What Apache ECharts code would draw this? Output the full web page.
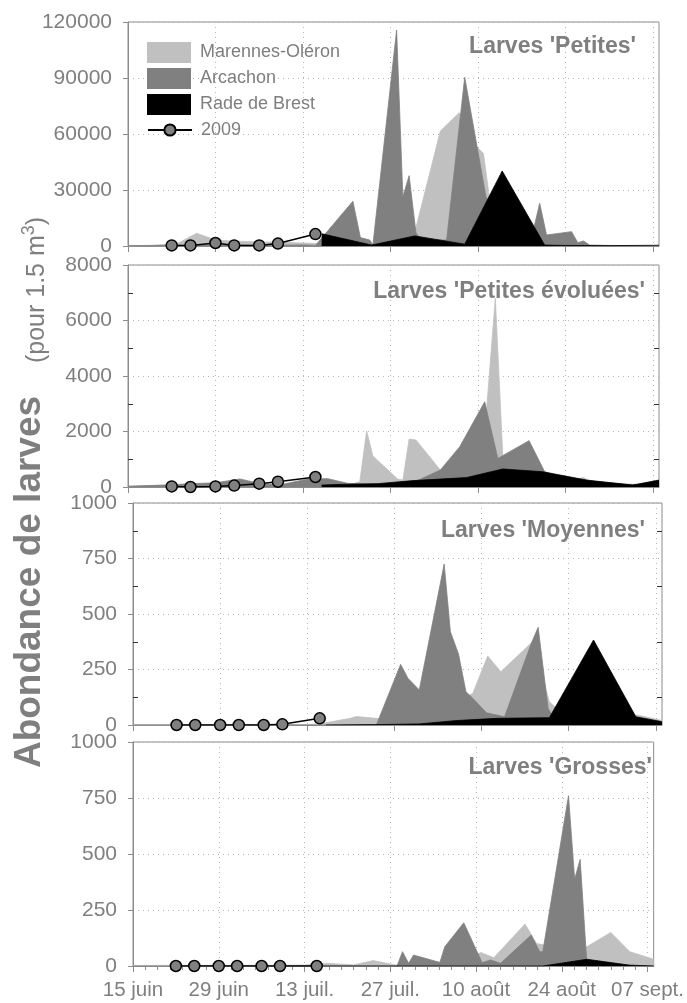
<!DOCTYPE html>
<html><head><meta charset="utf-8">
<script src="https://cdn.jsdelivr.net/npm/echarts@6/dist/echarts.min.js"></script>
<style>html,body{margin:0;padding:0;background:#fff}#c{width:687px;height:1003px}</style>
</head><body><div id="c"></div>
<script>
// x values are days after 15 June
const dateTickLabels = ['15 juin', '29 juin', '13 juil.', '27 juil.', '10 août', '24 août', '07 sept.'];
const dateTickDays = [0, 14, 28, 42, 56, 70, 84];
const panelTitles = ["Larves 'Petites'", "Larves 'Petites évoluées'", "Larves 'Moyennes'", "Larves 'Grosses'"];
const yTicksPetites = [0, 30000, 60000, 90000, 120000];
const yTicksEvoluees = [0, 2000, 4000, 6000, 8000];
const yTicksMoyennes = [0, 250, 500, 750, 1000];
const yTicksGrosses = [0, 250, 500, 750, 1000];

const days2009 = [7, 10, 14, 17, 21, 24, 30];
const petites2009 = [300, 300, 1600, 300, 300, 1300, 6400];
const evoluees2009 = [20, 0, 20, 50, 120, 190, 360];
const moyennes2009 = [0, 0, 0, 0, 0, 3, 30];
const grosses2009 = [0, 0, 0, 0, 0, 0, 0];

const petitesMarennes = [[0,0],[4,300],[8,1500],[11,6800],[14,3200],[17,2600],[21,2200],[24,2000],[28,1600],[31,1200],[35,1000],[39,1200],[43,3000],[46,8600],[50,61600],[53,71400],[55.8,53200],[56.9,49600],[57.9,24600],[60,8000],[63,1500],[67,400],[74,300],[80,300],[85,200]];
const petitesArcachon = [[0,200],[3,300],[7,400],[10,400],[14,600],[17,500],[21,400],[24,400],[28,600],[30,300],[36,24000],[37.2,4500],[38.7,3200],[39.2,500],[43,115700],[44,26400],[45,37700],[46.1,7000],[47,3000],[51,3200],[53.9,90400],[57.3,26400],[60,10000],[63,6000],[65,10000],[65.9,22900],[67,5900],[71,7700],[72,1800],[72.9,2700],[73.9,500],[78,200],[85,100]];
const petitesBrest = [[31,6600],[39,500],[45.9,5400],[53.9,1000],[59.9,40200],[66.7,500],[70,300],[77,200],[85,400]];

const evolueesMarennes = [[0,20],[4,40],[8,60],[11,80],[14,120],[17,100],[21,80],[24,60],[28,60],[31,50],[35,50],[37.1,190],[38.2,2020],[39.2,1120],[43.2,280],[44,250],[45,1730],[46.1,1690],[50,610],[54,900],[57.3,2500],[58.8,6800],[60,1090],[63,600],[67,300],[70,200],[72.9,340],[75,100],[80,50],[85,30]];
const evolueesArcachon = [[0,30],[3,50],[7,80],[10,120],[14,150],[17.9,290],[21.6,100],[24.8,100],[29,300],[32,300],[35.2,130],[39,100],[43,120],[46,200],[50,610],[53.1,1450],[57.1,3070],[59.2,1030],[64.2,1670],[66.7,550],[70,300],[74,200],[80,100],[85,80]];
const evolueesBrest = [[31,70],[35,100],[40,120],[45.6,230],[54.2,340],[60,650],[66.4,550],[73.4,250],[80.8,70],[85,250]];

const moyennesMarennes = [[0,0],[7,0],[14,0],[21,0],[28,2],[30,5],[34.9,30],[35.9,38],[39.1,30],[42,20],[46,40],[50,80],[52,100],[54.6,143],[57,311],[59.1,240],[64.2,375],[66.9,105],[69,50],[75,30],[81,45],[85,20]];
const moyennesArcachon = [[0,0],[14,0],[28,0],[39.1,0],[43,273],[44.2,210],[46,158],[50,725],[51,420],[52.3,320],[53.5,150],[54.6,120],[56.8,55],[59.7,37],[64,368],[65.1,440],[66.7,75],[68,10],[75,5],[85,0]];
const moyennesBrest = [[31,0],[40,2],[46,5],[52,20],[58.5,30],[66.9,33],[74,383],[80.8,37],[85,15]];

const grossesMarennes = [[0,2],[7,3],[14,3],[21,3],[28,4],[31.7,12],[36,5],[39.2,24],[42.9,4],[47,10],[51,20],[54,30],[56.8,60],[58.9,37],[64,187],[65.9,100],[70,80],[74.1,86],[78,150],[81.1,64],[85,30]];
const grossesArcachon = [[0,0],[43.1,0],[44,64],[45,12],[45.8,49],[50.1,16],[50.9,86],[54,193],[57,15],[58.4,27],[60,12],[65,138],[66.4,64],[66.9,64],[71.1,760],[72.1,387],[73,476],[74.1,10],[75,0],[85,0]];
const grossesBrest = [[31,0],[66.9,0],[74.1,30],[81,4],[85,0]];

const FONT = '"Liberation Sans", Arial, sans-serif';
const GRAY = '#7f7f7f';
const AXIS = '#8c8c8c';
const C_MO = '#c0c0c0', C_AR = '#808080', C_BR = '#000000';

const grids = [
  {left: 128, top: 22, width: 531, height: 224},
  {left: 128, top: 265, width: 531, height: 222},
  {left: 133, top: 503, width: 529, height: 222},
  {left: 133, top: 742, width: 529, height: 224}
].map(g => Object.assign({show: true, borderColor: AXIS, borderWidth: 1, backgroundColor: 'transparent'}, g));

const yTickSets = [yTicksPetites, yTicksEvoluees, yTicksMoyennes, yTicksGrosses];
const minorOn = [false, true, true, false];

const xAxes = grids.map((g, i) => ({
  gridIndex: i, type: 'value', min: 0, max: 85, interval: 14,
  axisLine: {show: true, lineStyle: {color: AXIS, width: 1}},
  axisTick: {show: true, length: 6, lineStyle: {color: AXIS}, customValues: dateTickDays},
  minorTick: {show: i === 3, splitNumber: 7, length: 4, lineStyle: {color: AXIS}},
  axisLabel: {show: i === 3, fontSize: 20.5, color: GRAY, fontFamily: FONT, margin: 14,
    customValues: dateTickDays,
    formatter: v => { const k = dateTickDays.indexOf(v); return k >= 0 ? dateTickLabels[k] : ''; }},
  splitLine: {show: true, lineStyle: {color: '#b4b4b4', type: [1, 4], width: 1}}
}));

const yAxes = yTickSets.map((t, i) => ({
  gridIndex: i, type: 'value', min: t[0], max: t[t.length - 1], interval: t[1] - t[0],
  axisLine: {show: true, lineStyle: {color: AXIS, width: 1}},
  axisTick: {show: true, length: 5, lineStyle: {color: AXIS}},
  minorTick: {show: minorOn[i], splitNumber: 2, length: -5, lineStyle: {color: '#333'}},
  axisLabel: {fontSize: 21, color: GRAY, fontFamily: FONT, margin: 16, formatter: v => String(v)},
  splitLine: {show: true, lineStyle: {color: '#b4b4b4', type: [1, 4], width: 1}}
}));
[1, 2].forEach(i => {
  const t = yTickSets[i];
  yAxes.push({gridIndex: i, type: 'value', position: 'right', min: t[0], max: t[t.length - 1], interval: t[1] - t[0],
    axisLine: {show: false}, axisTick: {show: false, inside: true},
    minorTick: {show: true, splitNumber: 2, length: 5, lineStyle: {color: '#333'}},
    axisLabel: {show: false}, splitLine: {show: false}});
});

function area(name, data, gi, color, z) {
  return {type: 'line', name, xAxisIndex: gi, yAxisIndex: gi, data, symbol: 'none', showSymbol: false,
    lineStyle: {color, width: 0.8}, itemStyle: {color}, areaStyle: {color, opacity: 1}, z, silent: true};
}
function line2009(vals, gi) {
  return {type: 'line', name: '2009', xAxisIndex: gi, yAxisIndex: gi,
    data: days2009.map((d, k) => [d, vals[k]]), symbol: 'circle', symbolSize: 11, showSymbol: true,
    lineStyle: {color: '#000', width: 1.5}, itemStyle: {color: '#808080', borderColor: '#000', borderWidth: 1.5},
    z: 6, silent: true};
}

const panelData = [
  [petitesMarennes, petitesArcachon, petitesBrest, petites2009],
  [evolueesMarennes, evolueesArcachon, evolueesBrest, evoluees2009],
  [moyennesMarennes, moyennesArcachon, moyennesBrest, moyennes2009],
  [grossesMarennes, grossesArcachon, grossesBrest, grosses2009]
];
const series = [];
panelData.forEach((p, i) => {
  series.push(area('Marennes-Oléron', p[0], i, C_MO, 2));
  series.push(area('Arcachon', p[1], i, C_AR, 3));
  series.push(area('Rade de Brest', p[2], i, C_BR, 4));
  series.push(line2009(p[3], i));
});

const titlePos = [{right: 51, top: 35}, {right: 42, top: 280}, {right: 42, top: 519}, {right: 35, top: 756}];
const titles = panelTitles.map((t, i) => Object.assign({text: t, padding: 0,
  textStyle: {fontSize: 23, fontWeight: 'bold', color: GRAY, fontFamily: FONT}}, titlePos[i]));

const chart = echarts.init(document.getElementById('c'), null, {renderer: 'canvas'});
chart.setOption({
  animation: false,
  backgroundColor: '#fff',
  textStyle: {fontFamily: FONT},
  title: titles,
  grid: grids,
  xAxis: xAxes,
  yAxis: yAxes,
  legend: [
    {left: 147, top: 42, padding: 0, orient: 'vertical', itemWidth: 44, itemHeight: 21, itemGap: 5, selectedMode: false,
     textStyle: {fontSize: 18, color: GRAY, fontFamily: FONT, padding: [0, 0, 0, 4]},
     data: [{name: 'Marennes-Oléron', icon: 'rect'}, {name: 'Arcachon', icon: 'rect'}, {name: 'Rade de Brest', icon: 'rect'}]},
    {left: 147, top: 121, padding: 0, orient: 'vertical', itemWidth: 44, itemHeight: 14, selectedMode: false,
     textStyle: {fontSize: 18, color: GRAY, fontFamily: FONT, padding: [0, 0, 0, 4]},
     data: ['2009']}
  ],
  graphic: [
    {type: 'text', x: 30, y: 582, rotation: Math.PI / 2, silent: true,
     style: {text: 'Abondance de larves', fontSize: 37, fontWeight: 'bold', fontFamily: FONT, fill: GRAY,
       align: 'center', verticalAlign: 'middle'}},
    {type: 'text', x: 37, y: 290, rotation: Math.PI / 2, silent: true,
     style: {text: '{n|(pour 1.5 m}{s|3}{n|)}', fontFamily: FONT, fill: GRAY, align: 'center', verticalAlign: 'middle',
       rich: {n: {fontSize: 25, lineHeight: 34, fontFamily: FONT, fill: GRAY},
              s: {fontSize: 18, lineHeight: 18, verticalAlign: 'top', fontFamily: FONT, fill: GRAY}}}}
  ],
  series
});
</script></body></html>
